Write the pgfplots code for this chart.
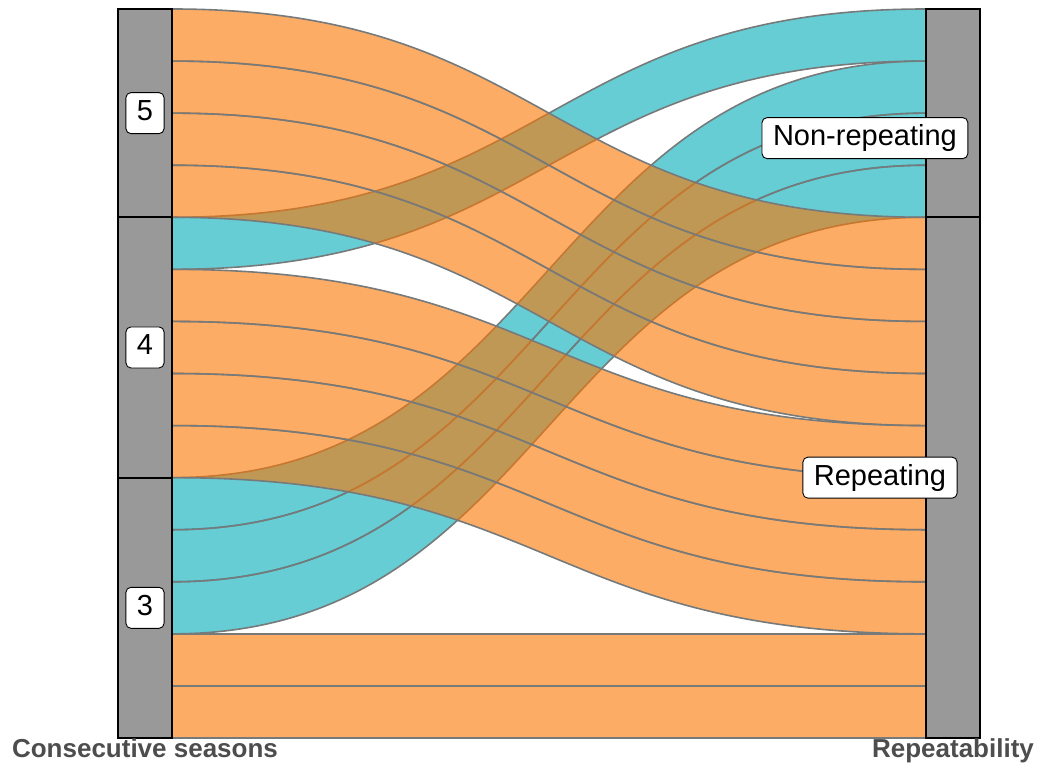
\documentclass[border=0pt]{standalone}
\usepackage{pgfplots}
\pgfplotsset{compat=1.18}
\usepackage{fontspec}
\setmainfont{Liberation Sans}
\definecolor{flowblue}{RGB}{0,172,183}
\definecolor{floworange}{RGB}{252,117,0}
\definecolor{flowline}{RGB}{118,122,122}
\definecolor{stratgray}{RGB}{153,153,153}
\definecolor{axtext}{RGB}{77,77,77}
\tikzset{lab/.style={draw=black, line width=0.9pt, fill=white, rounded corners=5pt,
    font=\fontsize{29}{33}\selectfont, text height=21pt, text depth=6pt,
    inner xsep=11pt, inner ysep=7pt}}
\begin{document}
\begin{tikzpicture}
\useasboundingbox (0,0) rectangle (1042pt,771pt);
\begin{axis}[at={(0,0)}, anchor=south west, scale only axis,
  width=1042pt, height=771pt,
  xmin=0.82054, xmax=2.11015, ymin=-0.63375, ymax=14.1729,
  hide axis, clip=false]
\def\xa{1.0334}\def\xb{1.9666}\def\xm{1.5}
% blue flows (3 -> Non-repeating, 4 -> Non-repeating): left bottom / right bottom, one unit each
\foreach \yl/\yr in {2/10,3/11,4/12,9/13}{
  \pgfmathsetmacro\ylt{\yl+1}\pgfmathsetmacro\yrt{\yr+1}
  \edef\temp{\noexpand\path[fill=flowblue, fill opacity=0.6, draw=flowline, line width=1.6pt]
    (axis cs:\xa,\yl) .. controls (axis cs:\xm,\yl) and (axis cs:\xm,\yr) .. (axis cs:\xb,\yr)
    -- (axis cs:\xb,\yrt) .. controls (axis cs:\xm,\yrt) and (axis cs:\xm,\ylt) .. (axis cs:\xa,\ylt) -- cycle;}
  \temp
}
% orange flows (-> Repeating)
\foreach \yl/\yr in {0/0,1/1,5/2,6/3,7/4,8/5,10/6,11/7,12/8,13/9}{
  \pgfmathsetmacro\ylt{\yl+1}\pgfmathsetmacro\yrt{\yr+1}
  \edef\temp{\noexpand\path[fill=floworange, fill opacity=0.6, draw=flowline, line width=1.6pt]
    (axis cs:\xa,\yl) .. controls (axis cs:\xm,\yl) and (axis cs:\xm,\yr) .. (axis cs:\xb,\yr)
    -- (axis cs:\xb,\yrt) .. controls (axis cs:\xm,\yrt) and (axis cs:\xm,\ylt) .. (axis cs:\xa,\ylt) -- cycle;}
  \temp
}
% strata
\addplot[fill=stratgray, draw=black, line width=2pt] coordinates {(0.9666,0) (1.0334,0) (1.0334,5) (0.9666,5)} --cycle;
\addplot[fill=stratgray, draw=black, line width=2pt] coordinates {(0.9666,5) (1.0334,5) (1.0334,10) (0.9666,10)} --cycle;
\addplot[fill=stratgray, draw=black, line width=2pt] coordinates {(0.9666,10) (1.0334,10) (1.0334,14) (0.9666,14)} --cycle;
\addplot[fill=stratgray, draw=black, line width=2pt] coordinates {(1.9666,0) (2.0334,0) (2.0334,10) (1.9666,10)} --cycle;
\addplot[fill=stratgray, draw=black, line width=2pt] coordinates {(1.9666,10) (2.0334,10) (2.0334,14) (1.9666,14)} --cycle;
% labels
\node[lab] at (axis cs:1,12) {5};
\node[lab] at (axis cs:1,7.5) {4};
\node[lab] at (axis cs:1,2.5) {3};
\node[lab] at (axis cs:1.891,11.52) {Non-repeating};
\node[lab] at (axis cs:1.9097,5) {Repeating};
\node[anchor=base, font=\bfseries\fontsize{26}{30}\selectfont, text=axtext, inner sep=0pt] at (axis cs:1,-0.365) {Consecutive seasons};
\node[anchor=base, font=\bfseries\fontsize{26}{30}\selectfont, text=axtext, inner sep=0pt] at (axis cs:2,-0.365) {Repeatability};
\end{axis}
\end{tikzpicture}
\end{document}
